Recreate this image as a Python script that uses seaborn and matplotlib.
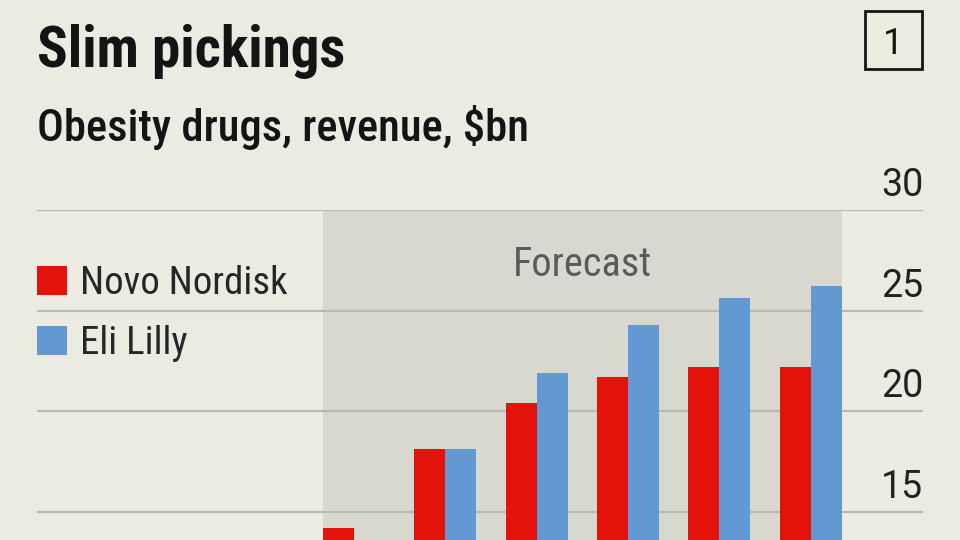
import numpy as np
import pandas as pd
import matplotlib
matplotlib.use("Agg")
import matplotlib.pyplot as plt
from matplotlib.patches import Rectangle
import seaborn as sns

# data (bottom of the chart is cropped)
years = ["2024", "2025", "2026", "2027", "2028", "2029"]
novo = [14.2, 18.1, 20.4, 21.7, 22.2, 22.2]
lilly = [13.0, 18.1, 21.9, 24.3, 25.6, 26.2]
yticks = [15, 20, 25, 30]

df = pd.DataFrame({
    "year": years * 2,
    "company": ["Novo Nordisk"] * len(years) + ["Eli Lilly"] * len(years),
    "revenue": novo + lilly,
})

bg = "#ECEBE2"
shade = "#D8D8D0"
grid = "#B9B9B2"
ink = "#141414"
pal = {"Novo Nordisk": "#E3120B", "Eli Lilly": "#6399D3"}

sns.set_theme(style="white")
plt.rcParams["font.family"] = ["Roboto Condensed", "DejaVu Sans"]

fig = plt.figure(figsize=(9.6, 5.4), dpi=100, facecolor=bg)
ax = fig.add_axes([37 / 960, 0, 886 / 960, 330 / 540])
ax.set_facecolor(bg)

bw = 0.68
ax.axvspan(-bw / 2, len(years) - 1 + bw / 2, color=shade, lw=0, zorder=0)
for v in yticks:
    ax.axhline(v, color=grid, lw=1.6, zorder=1)

sns.barplot(data=df, x="year", y="revenue", hue="company", palette=pal,
            width=bw, gap=0, saturation=1, linewidth=0, ax=ax, zorder=2, legend=True)

ax.set_xlim(-3.47, 6.23)
ax.set_ylim(13.59, 30)
ax.set_xlabel("")
ax.set_ylabel("")
ax.set_xticks([])
ax.set_yticks([])
for s in ax.spines.values():
    s.set_visible(False)

for v in yticks:
    ax.annotate(str(v), xy=(1, v), xycoords=("axes fraction", "data"),
                xytext=(0, 10), textcoords="offset points",
                ha="right", va="baseline", fontsize=27, color="#222222",
                family=["Roboto", "DejaVu Sans"])

ax.text((len(years) - 1) / 2, 26.7, "Forecast", ha="center", va="baseline",
        fontsize=29, color="#5a5a5a")

h, l = ax.get_legend_handles_labels()
ax.legend(h, l, loc="upper left", bbox_to_anchor=(37 / 960, 1 - 265 / 540),
          bbox_transform=fig.transFigure, frameon=False,
          handlelength=0.77, handleheight=0.77, handletextpad=0.33,
          labelspacing=0.6, borderpad=0, borderaxespad=0,
          prop={"family": ["Roboto Condensed", "DejaVu Sans"], "size": 28})

fig.text(37 / 960, 1 - 67 / 540, "Slim pickings", fontsize=41, fontweight="bold",
         color=ink, ha="left", va="baseline")
fig.text(37 / 960, 1 - 141 / 540, "Obesity drugs, revenue, $bn", fontsize=32,
         fontweight="medium", color=ink, ha="left", va="baseline")
fig.patches.append(Rectangle((865 / 960, 1 - 69 / 540), 57 / 960, 58 / 540,
                             transform=fig.transFigure, fill=False, ec=ink, lw=2))
fig.text(893.5 / 960, 1 - 54 / 540, "1", fontsize=26, color=ink,
         ha="center", va="baseline", family=["Roboto", "DejaVu Sans"])

fig.savefig("out.png", dpi=100, facecolor=bg)
